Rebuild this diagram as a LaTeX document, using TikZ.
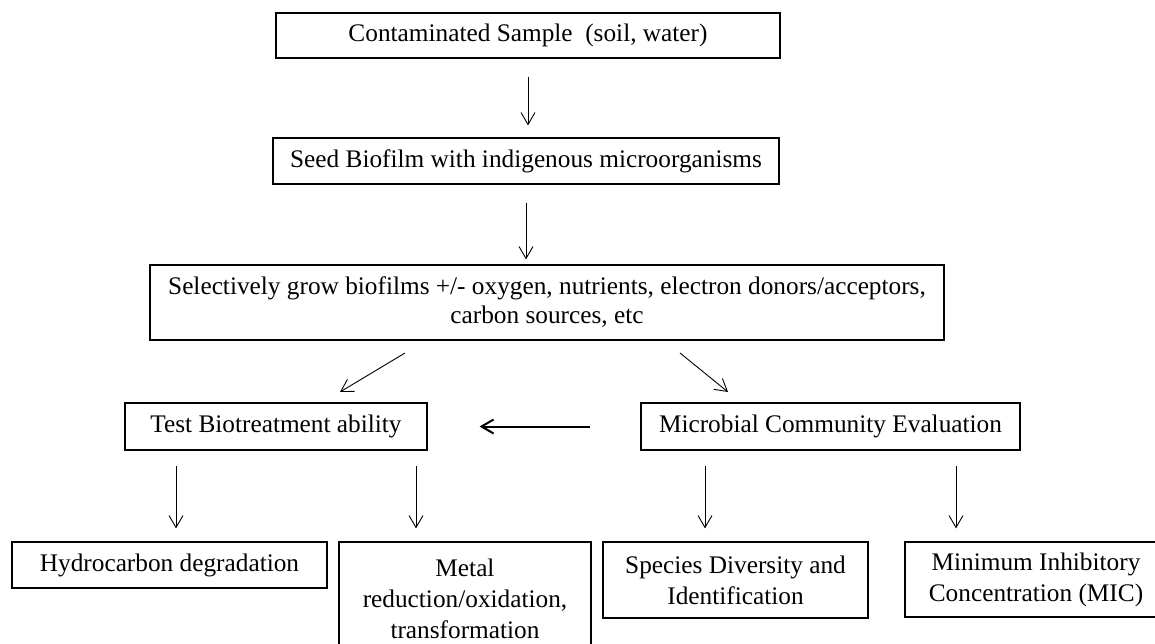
\documentclass[tikz,border=0pt]{standalone}
\usepackage{fontspec}
\setmainfont{Liberation Serif}
\usetikzlibrary{arrows.meta}

\tikzset{
  box/.style={draw, line width=1.2pt, inner sep=0pt, align=center,
    font=\fontsize{25.3}{31}\selectfont},
  arr/.style={-{Straight Barb[length=12pt,width=14pt]}, line width=0.9pt},
}

\begin{document}
\begin{tikzpicture}[x=1pt,y=-1pt]
\useasboundingbox (0,0) rectangle (1155,644);

% boxes
\node[box, minimum width=504pt, minimum height=45pt] (sample) at (528,35.5) {Contaminated Sample~~(soil, water)};
\node[box, minimum width=506pt, minimum height=46pt] (seed) at (526,161) {Seed Biofilm with indigenous microorganisms};
\node[box, minimum width=794pt, minimum height=75pt, font=\fontsize{25.3}{29}\selectfont] (grow) at (547,302.5) {Selectively grow biofilms +/- oxygen, nutrients, electron donors/acceptors,\\carbon sources, etc};
\node[box, minimum width=302pt, minimum height=47pt] (test) at (276,426.5) {Test Biotreatment ability};
\node[box, minimum width=379pt, minimum height=47pt] (community) at (830.5,426.5) {Microbial Community Evaluation};
\node[box, minimum width=315pt, minimum height=46pt] (hydro) at (169.5,565) {Hydrocarbon degradation};
\node[box, minimum width=252pt, minimum height=113pt] (metal) at (465,598.5) {Metal\\reduction/oxidation,\\transformation};
\node[box, minimum width=265pt, minimum height=76pt] (species) at (735.5,580) {Species Diversity and\\Identification};
\node[box, minimum width=262pt, minimum height=75pt] (mic) at (1036,579.5) {Minimum Inhibitory\\Concentration (MIC)};

% free arrow ends
\coordinate (l1) at (405,353);
\coordinate (l2) at (340,392);
\coordinate (r1) at (680,353);
\coordinate (r2) at (728,392);
\coordinate (d1) at (176,466);
\coordinate (d2) at (416,466);
\coordinate (d3) at (705,466);
\coordinate (d4) at (956,466);

% arrows
\draw[arr, shorten <=18pt, shorten >=12pt] (sample.south) -- (sample.south |- seed.north);
\draw[arr, shorten <=18pt, shorten >=5pt] (seed.south) -- (seed.south |- grow.north);
\draw[arr] (l1) -- (l2);
\draw[arr] (r1) -- (r2);
\draw[arr, line width=2pt, shorten <=50pt, shorten >=52pt] (community.west) -- (test.east);
\draw[arr, shorten >=13pt] (d1) -- (d1 |- hydro.north);
\draw[arr, shorten >=13pt] (d2) -- (d2 |- metal.north);
\draw[arr, shorten >=13pt] (d3) -- (d3 |- species.north);
\draw[arr, shorten >=13pt] (d4) -- (d4 |- mic.north);
\end{tikzpicture}
\end{document}
